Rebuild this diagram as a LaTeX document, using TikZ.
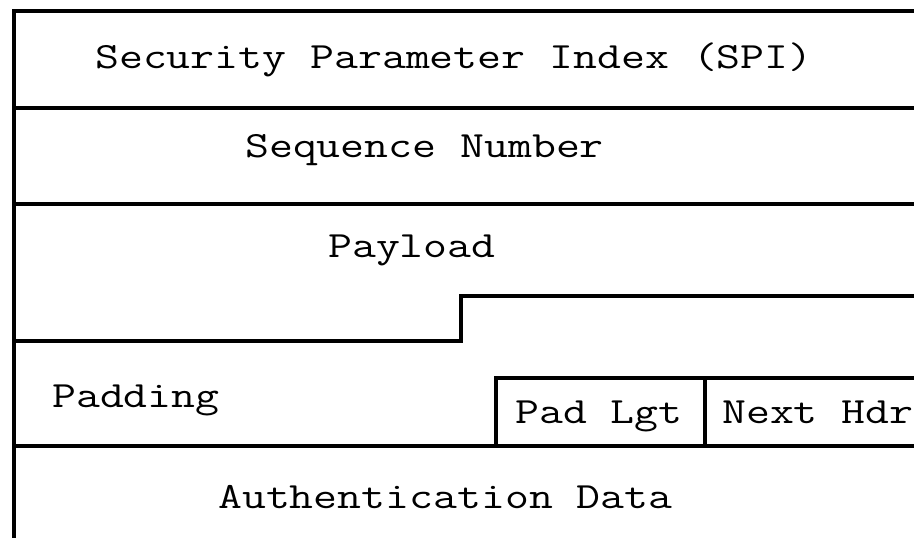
\documentclass[tikz,border=0pt]{standalone}
\usepackage{fontspec}
\setmonofont{Latin Modern Mono}[FakeStretch=1.255]

\begin{document}
\begin{tikzpicture}[x=1pt,y=-1pt,
    campo/.style={font=\ttfamily\fontsize{37}{40}\selectfont,
                  inner sep=0pt, anchor=base west},
    borde/.style={line width=3.5pt}]
% Marco de la figura
\useasboundingbox (0,0) rectangle (914,538);

% Borde superior e izquierdo
\draw[borde] (914,11) -- (14,11) -- (14,538);

% Separaciones completas
\draw[borde] (14,108) -- (914,108);
\draw[borde] (14,204) -- (914,204);
\draw[borde] (14,446) -- (914,446);

% Escalon del payload
\draw[borde] (14,341) -- (461,341) -- (461,296) -- (914,296);

% Casillas de Pad Lgt y Next Hdr
\draw[borde] (496,446) -- (496,378) -- (914,378);
\draw[borde] (705,378) -- (705,446);

% Campos
\node[campo] (spi) at (95,68) {Security Parameter Index (SPI)};
\node[campo] (seq) at (245,157) {Sequence Number};
\node[campo] (payload) at (328,257) {Payload};
\node[campo] (padding) at (52,407) {Padding};
\node[campo] (padlgt) at (515,423) {Pad Lgt};
\node[campo] (nexthdr) at (722,423) {Next Hdr};
\node[campo] (auth) at (218,508) {Authentication Data};
\end{tikzpicture}
\end{document}
